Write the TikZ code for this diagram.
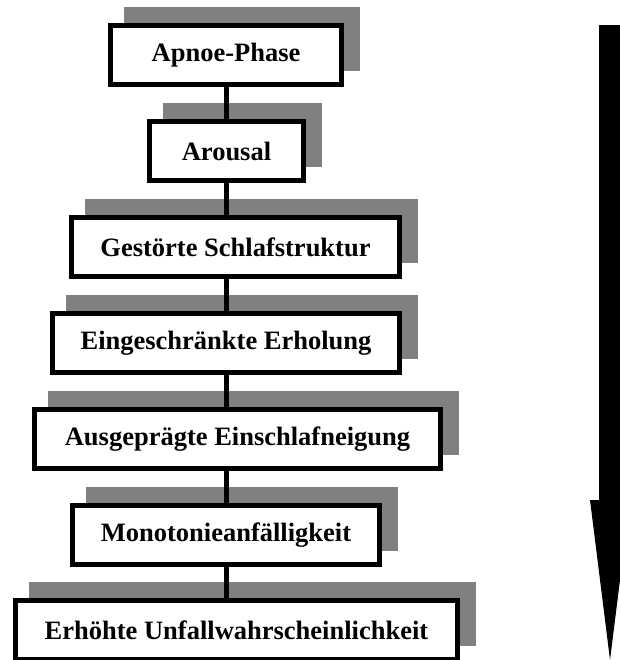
\documentclass[tikz,border=0pt]{standalone}
\usepackage{fontspec}
\setmainfont{Liberation Serif}
\usepackage{tikz}
\usetikzlibrary{shadows}

\tikzset{
  stufe/.style={draw, line width=2.5pt, fill=white, inner sep=0pt,
    minimum height=29.5pt, font=\bfseries\fontsize{13.25}{15}\selectfont,
    drop shadow={shadow xshift=8pt, shadow yshift=8pt, fill=black!50,
      draw=black!50, opacity=1}},
  link/.style={line width=2.5pt}
}

\begin{document}
\begin{tikzpicture}[x=0.5pt, y=-0.5pt]
\useasboundingbox (0,0) rectangle (620,660);
\node[stufe, anchor=center, minimum width=115.5pt] (apnoe) at (226,55) {Apnoe-Phase};
\node[stufe, anchor=center, minimum width=77pt] (arousal) at (226.5,151) {Arousal};
\node[stufe, anchor=center, minimum width=164pt] (schlaf) at (235.5,247) {Gestörte Schlafstruktur};
\node[stufe, anchor=center, minimum width=173.5pt] (erholung) at (226,343) {Eingeschränkte Erholung};
\node[stufe, anchor=center, minimum width=203pt] (einschlaf) at (237.5,439) {Ausgeprägte Einschlafneigung};
\node[stufe, anchor=center, minimum width=153.5pt] (monotonie) at (226,535) {Monotonieanfälligkeit};
\node[stufe, anchor=center, minimum width=221pt] (unfall) at (236.5,630) {Erhöhte Unfallwahrscheinlichkeit};

\coordinate (spine) at (226,0);
\draw[link] (apnoe.south -| spine) -- (arousal.north -| spine);
\draw[link] (arousal.south -| spine) -- (schlaf.north -| spine);
\draw[link] (schlaf.south -| spine) -- (erholung.north -| spine);
\draw[link] (erholung.south -| spine) -- (einschlaf.north -| spine);
\draw[link] (einschlaf.south -| spine) -- (monotonie.north -| spine);
\draw[link] (monotonie.south -| spine) -- (unfall.north -| spine);

% grosser Pfeil rechts
\fill (599,25) -- (621,25) -- (621,500) -- (630,500) -- (610,660) -- (590,500) -- (599,500) -- cycle;
\end{tikzpicture}
\end{document}
